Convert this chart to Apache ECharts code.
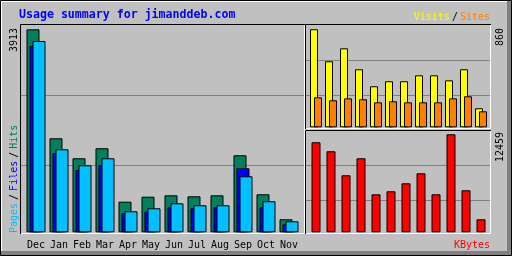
<!DOCTYPE html>
<html><head><meta charset="utf-8">
<script src="https://cdn.jsdelivr.net/npm/echarts@6.0.0/dist/echarts.min.js"></script>
<style>html,body{margin:0;padding:0;background:#c0c0c0}#c{width:512px;height:256px}</style>
</head><body><div id="c"></div>
<script>
const months = ['Dec','Jan','Feb','Mar','Apr','May','Jun','Jul','Aug','Sep','Oct','Nov'];
const hits   = [3913,1812,1427,1620,590,686,713,694,713,1485,733,251];
const files  = [3592,1523,1201,1292,366,405,482,463,482,1234,482,154];
const pages  = [3688,1600,1292,1427,405,463,559,521,521,1080,598,212];
const visits = [860,579,693,509,360,404,404,456,456,412,509,167];
const sites  = [263,237,254,246,219,228,219,219,219,254,272,140];
const kbytes = [11442,10298,7246,9408,4831,5212,6229,7501,4831,12459,5339,1653];
const title = 'Usage summary for jimanddeb.com';

const MONO = 'DejaVu Sans Mono';
const C = {hits:'#00805c', files:'#0000ff', pages:'#00c0ff', visits:'#ffff00', sites:'#ff8000', kbytes:'#ff0000'};

function bgGrid(i){
  return {
    x: {gridIndex:i, type:'value', min:0, max:1, show:false},
    y: {gridIndex:i, type:'value', min:0, max:3, interval:1,
        axisLine:{show:false}, axisTick:{show:false}, axisLabel:{show:false},
        splitLine:{show:true, showMinLine:false, showMaxLine:false, lineStyle:{color:'#808080', width:1}}}
  };
}
const g0 = bgGrid(0), g2 = bgGrid(2), g4 = bgGrid(4);

const barBorder = {borderColor:'#000', borderWidth:1};

const option = {
  animation:false,
  backgroundColor:'#c0c0c0',
  grid:[
    {left:21, top:26, width:283, height:209},          // 0 main bg
    {left:24.5, top:24.8, width:276, height:207.5},    // 1 main bars
    {left:306, top:25.2, width:184, height:105},       // 2 visits bg
    {left:308.5, top:24.7, width:180, height:102.6},   // 3 visits bars
    {left:306, top:130.3, width:184, height:105},      // 4 kbytes bg
    {left:308.5, top:130, width:180, height:102.3}     // 5 kbytes bars
  ],
  xAxis:[
    g0.x,
    {gridIndex:1, type:'category', data:months, axisLine:{show:false}, axisTick:{show:false},
     axisLabel:{interval:0, color:'#000', fontFamily:MONO, fontSize:10, margin:8}},
    g2.x,
    {gridIndex:3, type:'category', data:months, show:false},
    g4.x,
    {gridIndex:5, type:'category', data:months, show:false}
  ],
  yAxis:[
    g0.y,
    {gridIndex:1, type:'value', min:0, max:4000, show:false, splitLine:{show:false}},
    g2.y,
    {gridIndex:3, type:'value', min:0, max:900, show:false, splitLine:{show:false}},
    g4.y,
    {gridIndex:5, type:'value', min:0, max:13000, show:false, splitLine:{show:false}}
  ],
  series:[
    {name:'Hits', type:'bar', xAxisIndex:1, yAxisIndex:1, data:hits, barWidth:13, barGap:'-76.92%',
     itemStyle:Object.assign({color:C.hits}, barBorder)},
    {name:'Files', type:'bar', xAxisIndex:1, yAxisIndex:1, data:files, barWidth:13, barGap:'-76.92%',
     itemStyle:Object.assign({color:C.files}, barBorder)},
    {name:'Pages', type:'bar', xAxisIndex:1, yAxisIndex:1, data:pages, barWidth:13, barGap:'-76.92%',
     itemStyle:Object.assign({color:C.pages}, barBorder)},
    {name:'Visits', type:'bar', xAxisIndex:3, yAxisIndex:3, data:visits, barWidth:8, barGap:'-50%',
     itemStyle:Object.assign({color:C.visits}, barBorder)},
    {name:'Sites', type:'bar', xAxisIndex:3, yAxisIndex:3, data:sites, barWidth:8, barGap:'-50%',
     itemStyle:Object.assign({color:C.sites}, barBorder)},
    {name:'KBytes', type:'bar', xAxisIndex:5, yAxisIndex:5, data:kbytes, barWidth:9,
     itemStyle:Object.assign({color:C.kbytes}, barBorder)}
  ],
  graphic:[
    // outer bevel
    {type:'rect', z:100, silent:true, shape:{x:507,y:1,width:4,height:254}, style:{fill:'#808080'}},
    {type:'rect', z:100, silent:true, shape:{x:1,y:251,width:510,height:4}, style:{fill:'#808080'}},
    {type:'polyline', z:101, silent:true, shape:{points:[[1.5,251],[1.5,1.5],[507,1.5]]}, style:{stroke:'#ffffff', lineWidth:1, fill:null}},
    {type:'rect', z:102, silent:true, shape:{x:0.5,y:0.5,width:511,height:255}, style:{stroke:'#000', lineWidth:1, fill:null}},
    // main panel frame
    {type:'polyline', z:100, silent:true, shape:{points:[[20.5,234],[20.5,24.5],[305,24.5]]}, style:{stroke:'#000', lineWidth:1, fill:null}},
    {type:'polyline', z:100, silent:true, shape:{points:[[21,233.5],[304.5,233.5],[304.5,25]]}, style:{stroke:'#fff', lineWidth:1, fill:null}},
    // visits panel frame
    {type:'polyline', z:100, silent:true, shape:{points:[[305.5,129],[305.5,24.5],[491,24.5]]}, style:{stroke:'#000', lineWidth:1, fill:null}},
    {type:'polyline', z:100, silent:true, shape:{points:[[306,128.5],[490.5,128.5],[490.5,25]]}, style:{stroke:'#fff', lineWidth:1, fill:null}},
    // kbytes panel frame
    {type:'polyline', z:100, silent:true, shape:{points:[[305.5,234],[305.5,130.5],[491,130.5]]}, style:{stroke:'#000', lineWidth:1, fill:null}},
    {type:'polyline', z:100, silent:true, shape:{points:[[306,233.5],[490.5,233.5],[490.5,131]]}, style:{stroke:'#fff', lineWidth:1, fill:null}},
    // title
    {type:'text', z:110, x:19, y:15, style:{text:title, fill:'#0000ff', font:'bold 11.6px "DejaVu Sans Mono"', align:'left', verticalAlign:'middle'}},
    // visits / sites legend
    {type:'text', z:110, x:490, y:17, style:{text:'{v|Visits}{s|/}{t|Sites}', align:'right', verticalAlign:'middle',
      font:'10px "DejaVu Sans Mono"',
      rich:{v:{fill:C.visits, font:'10px "DejaVu Sans Mono"'}, s:{fill:'#000', font:'10px "DejaVu Sans Mono"', padding:[0,2,0,2]}, t:{fill:C.sites, font:'10px "DejaVu Sans Mono"'}}}},
    // KBytes label
    {type:'text', z:110, x:490, y:245, style:{text:'KBytes', fill:C.kbytes, font:'10px "DejaVu Sans Mono"', align:'right', verticalAlign:'middle'}},
    // left rotated label
    {type:'text', z:110, x:14.5, y:233, rotation:Math.PI/2, style:{text:'{p|Pages}{s|/}{f|Files}{s|/}{h|Hits}', align:'left', verticalAlign:'middle',
      font:'10px "DejaVu Sans Mono"',
      rich:{p:{fill:C.pages, font:'10px "DejaVu Sans Mono"'}, s:{fill:'#000', font:'10px "DejaVu Sans Mono"', padding:[0,3,0,3]}, f:{fill:C.files, font:'10px "DejaVu Sans Mono"'}, h:{fill:C.hits, font:'10px "DejaVu Sans Mono"'}}}},
    // max values, rotated
    {type:'text', z:110, x:14.5, y:28, rotation:Math.PI/2, style:{text:String(Math.max(...hits)), fill:'#000', font:'10px "DejaVu Sans Mono"', align:'right', verticalAlign:'middle'}},
    {type:'text', z:110, x:500, y:28, rotation:Math.PI/2, style:{text:String(Math.max(...visits)), fill:'#000', font:'10px "DejaVu Sans Mono"', align:'right', verticalAlign:'middle'}},
    {type:'text', z:110, x:500, y:132, rotation:Math.PI/2, style:{text:String(Math.max(...kbytes)), fill:'#000', font:'10px "DejaVu Sans Mono"', align:'right', verticalAlign:'middle'}}
  ]
};
const chart = echarts.init(document.getElementById('c'), null, {renderer:'canvas'});
chart.setOption(option);
</script></body></html>
